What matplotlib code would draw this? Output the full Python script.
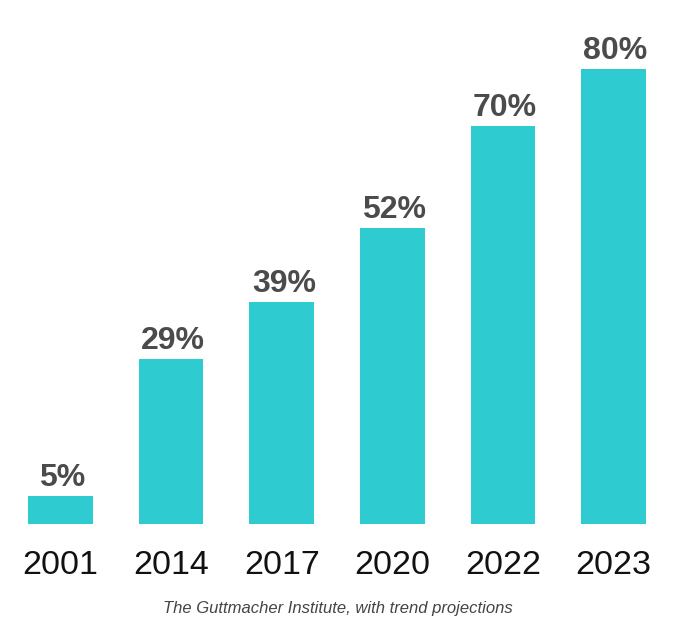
import matplotlib
matplotlib.use("Agg")
import matplotlib.pyplot as plt

years = ["2001", "2014", "2017", "2020", "2022", "2023"]
values = [5, 29, 39, 52, 70, 80]
labels = ["5%", "29%", "39%", "52%", "70%", "80%"]
source = "The Guttmacher Institute, with trend projections"

plt.rcParams['font.family'] = ['Liberation Sans', 'DejaVu Sans']

fig = plt.figure(figsize=(6.94, 6.34), dpi=100)
ax = fig.add_axes([0, 1 - 524 / 634, 1, 524 / 634])
x = list(range(len(years)))
ax.bar(x, values, width=0.585, color="#2ECBD1", linewidth=0)
ax.set_xlim(-60.5 / 110.6, (694 - 60.5) / 110.6)
ax.set_ylim(0, 524 / 5.6875)
for xi, v, lab in zip(x, values, labels):
    ax.annotate(lab, (xi, v), xytext=(1.5, 2), textcoords="offset points",
                ha="center", va="bottom", fontsize=23, fontweight="bold",
                color="#4B4B4B")
ax.set_xticks(x)
ax.set_xticklabels(years, fontsize=24.5, color="#111111")
ax.tick_params(axis="x", length=0, pad=19)
ax.set_yticks([])
for s in ax.spines.values():
    s.set_visible(False)
fig.text(337.5 / 694, 1 - 608 / 634, source, ha="center", va="center",
         fontsize=12, style="italic", color="#444444")
fig.savefig("out.png", dpi=100, facecolor="white")
